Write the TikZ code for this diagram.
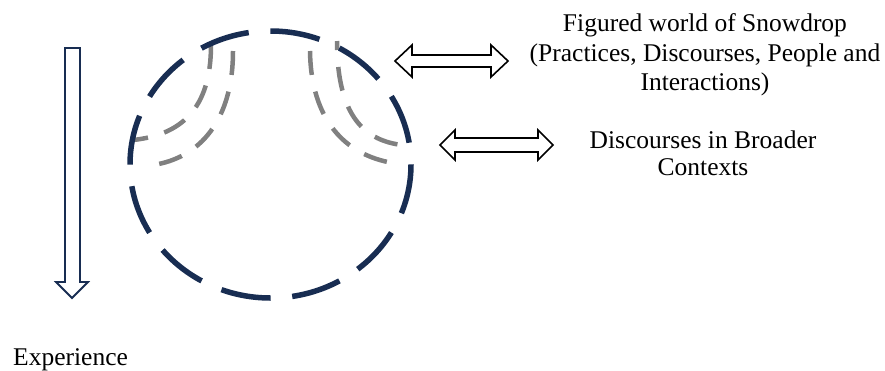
\documentclass[tikz,border=0pt]{standalone}
\usepackage{fontspec}
\setmainfont{Liberation Serif}
\definecolor{navy}{RGB}{24,45,82}
\definecolor{arcgray}{RGB}{128,128,128}
\begin{document}
\begin{tikzpicture}[x=1pt,y=-1pt,
  outer/.style={draw=navy, line width=5.5pt, dash pattern=on 50pt off 21.74pt},
  inner/.style={draw=arcgray, line width=4.5pt, dash pattern=on 24pt off 17pt},
  hollow/.style={draw=black, fill=white, line width=1.6pt, line join=miter},
  downarrow/.style={draw=navy, fill=white, line width=1.8pt, line join=miter},
  lbl/.style={align=center, inner sep=0pt}]
\useasboundingbox (0,0) rectangle (885,370);
% gray dashed arcs
\draw[inner] (211,45) .. controls (211,110) and (180,135) .. (133,140);
\draw[inner] (233,51) .. controls (233,120) and (200,158) .. (153,165);
\draw[inner] (310,51) .. controls (311,120) and (345,155) .. (393,163);
\draw[inner, dash phase=15pt] (337,41) .. controls (337,110) and (360,140) .. (402,145);
% navy dashed circle
\draw[outer] (270.5,164.5) ellipse [x radius=140.5, y radius=133.5];
% double arrows
\draw[hollow] (395,61) -- (412,45) -- (412,55) -- (491,55) -- (491,45) -- (508,61)
  -- (491,77) -- (491,67) -- (412,67) -- (412,77) -- cycle;
\draw[hollow] (440,145) -- (455,130) -- (455,138) -- (538,138) -- (538,130) -- (553,145)
  -- (538,160) -- (538,152) -- (455,152) -- (455,160) -- cycle;
% experience arrow
\draw[downarrow] (65,48) -- (80,48) -- (80,282) -- (88,282) -- (72,298) -- (56,282) -- (65,282) -- cycle;
% labels
\node[lbl, anchor=north, font=\fontsize{25.5}{29.5}\selectfont] (fw) at (705,13.7)
  {Figured world of Snowdrop\\(Practices, Discourses, People and\\Interactions)};
\node[lbl, anchor=north, font=\fontsize{25.5}{27}\selectfont] (dbc) at (703,130.7)
  {Discourses in Broader\\Contexts};
\node[lbl, anchor=base west, font=\fontsize{25.5}{29}\selectfont] (exp) at (13,365) {Experience};
\end{tikzpicture}
\end{document}
